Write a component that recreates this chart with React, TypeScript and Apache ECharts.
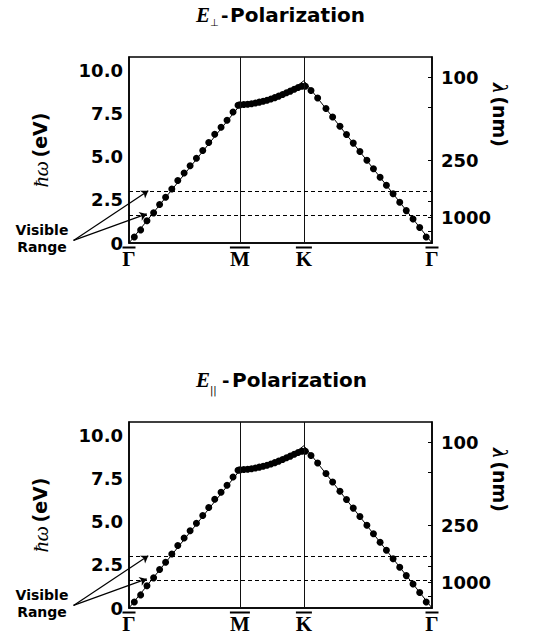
import React, { useEffect, useRef } from 'react';
import * as echarts from 'echarts';

// k-path positions of the high-symmetry points (Γ, M, K, Γ)
const kPoints = [0, 1, 1.577, 2.732];
const kLabels = ['Γ', 'M', 'K', 'Γ'];

// Γ -> M dots
const gmX = [0.048, 0.105, 0.162, 0.222, 0.276, 0.330, 0.386, 0.440, 0.497, 0.551, 0.608, 0.665, 0.719, 0.773, 0.830, 0.884, 0.938, 0.983];
const gmY = [0.35, 0.76, 1.29, 1.75, 2.24, 2.66, 3.14, 3.63, 4.06, 4.49, 4.92, 5.37, 5.84, 6.31, 6.72, 7.13, 7.61, 8.0];
// M -> K dots
const mkX = [1.00, 1.035, 1.07, 1.105, 1.14, 1.175, 1.21, 1.245, 1.28, 1.315, 1.35, 1.385, 1.42, 1.455, 1.49, 1.525, 1.56, 1.59];
const mkY = [8.02, 8.04, 8.06, 8.09, 8.13, 8.18, 8.23, 8.29, 8.36, 8.44, 8.53, 8.62, 8.72, 8.82, 8.93, 9.03, 9.10, 9.10];
// K -> Γ dots
const kgX = [1.641, 1.701, 1.776, 1.836, 1.902, 1.961, 2.022, 2.082, 2.145, 2.204, 2.264, 2.321, 2.381, 2.441, 2.500, 2.561, 2.621, 2.680];
const kgY = [8.85, 8.42, 7.81, 7.32, 6.78, 6.30, 5.80, 5.31, 4.80, 4.31, 3.82, 3.35, 2.86, 2.37, 1.88, 1.39, 0.90, 0.35];

// thin (light-line) curve
const thX = [0, 1.0, 1.1, 1.2, 1.3, 1.4, 1.5, 1.577, 2.732];
const thY = [0, 8.0, 8.07, 8.2, 8.4, 8.7, 9.05, 9.42, 0];

// visible range (eV)
const visLow = 1.62;
const visHigh = 3.02;

// left axis labels
const eVTicks = [0, 2.5, 5, 7.5, 10];
// right axis (wavelength) labels placed at energy positions
const lambdaLabels = ['100', '250', '1000'];
const lambdaPos = [9.6, 4.8, 1.5];
const lambdaTicks = [9.6, 7.9, 4.8, 2.4, 1.5, 0.7];

// arrow annotation (data coords)
const arrowTail = [-0.5, 0.15];
const arrowHeads = [[0.174, 3.04], [0.16, 1.69]];

const YMAX = 10.8;
const gridTops = [57, 422];
const titleSubs = ['⊥', '||'];

const sans = '"DejaVu Sans", "Liberation Sans", Arial, sans-serif';
const serif = '"Liberation Serif", "DejaVu Serif", "Times New Roman", serif';

const olWidths: Record<string, number> = { 'Γ': 13, 'M': 20, 'K': 16 };

function buildOption() {
  const grid: any[] = [];
  const xAxis: any[] = [];
  const yAxis: any[] = [];
  const series: any[] = [];
  const graphic: any[] = [];

  gridTops.forEach((top, g) => {
    grid.push({
      left: 129, top, width: 303, height: 186,
      show: true, borderColor: '#000', borderWidth: 1.5, backgroundColor: 'transparent',
    });
    xAxis.push({
      type: 'value', gridIndex: g, min: 0, max: kPoints[3],
      axisLine: { show: true, lineStyle: { color: '#000', width: 1.5 } },
      axisTick: { show: false },
      splitLine: { show: false },
      axisLabel: {
        customValues: kPoints,
        margin: 3,
        color: '#000',
        formatter: (v: number) => {
          const i = kPoints.findIndex((k) => Math.abs(k - v) < 1e-6);
          const lab = kLabels[i] || '';
          return `{ol${lab === 'Γ' ? 'G' : lab}| }\n{g|${lab}}`;
        },
        rich: {
          olG: { width: olWidths['Γ'], height: 2, backgroundColor: '#000', lineHeight: 3 },
          olM: { width: olWidths['M'], height: 2, backgroundColor: '#000', lineHeight: 3 },
          olK: { width: olWidths['K'], height: 2, backgroundColor: '#000', lineHeight: 3 },
          g: { fontFamily: serif, fontWeight: 'bold', fontSize: 21, color: '#000', lineHeight: 20 },
        },
      },
    });
    yAxis.push({
      type: 'value', gridIndex: g, min: 0, max: YMAX, position: 'left',
      axisLine: { show: true, lineStyle: { color: '#000', width: 1.5 } },
      axisTick: { show: false },
      splitLine: { show: false },
      axisLabel: {
        customValues: eVTicks,
        margin: 6,
        color: '#000',
        fontFamily: sans, fontWeight: 'bold', fontSize: 18,
        formatter: (v: number) => (v === 0 ? '0' : v.toFixed(1)),
      },
      name: '{i|ħω} {b|(eV)}',
      nameLocation: 'middle',
      nameRotate: 90,
      nameGap: 78,
      nameTextStyle: {
        rich: {
          i: { fontFamily: serif, fontStyle: 'italic', fontSize: 22, color: '#000' },
          b: { fontFamily: sans, fontWeight: 'bold', fontSize: 19, color: '#000' },
        },
      },
    });
    yAxis.push({
      type: 'value', gridIndex: g, min: 0, max: YMAX, position: 'right',
      axisLine: { show: true, lineStyle: { color: '#000', width: 1.5 } },
      axisTick: { show: true, inside: true, length: 4, customValues: lambdaTicks, lineStyle: { color: '#000', width: 1 } },
      splitLine: { show: false },
      axisLabel: {
        customValues: lambdaPos,
        margin: 9,
        color: '#000',
        fontFamily: sans, fontWeight: 'bold', fontSize: 18,
        formatter: (v: number) => {
          const i = lambdaPos.findIndex((p) => Math.abs(p - v) < 1e-6);
          return lambdaLabels[i] || '';
        },
      },
    });

    const yl = 2 * g;
    series.push({
      type: 'line', xAxisIndex: g, yAxisIndex: yl,
      data: thX.map((x, i) => [x, thY[i]]),
      symbol: 'none', lineStyle: { color: '#000', width: 1 }, z: 2, silent: true,
      markLine: {
        silent: true, symbol: ['none', 'none'], label: { show: false },
        data: [
          { xAxis: kPoints[1], lineStyle: { color: '#111', width: 1, type: 'solid' } },
          { xAxis: kPoints[2], lineStyle: { color: '#111', width: 1, type: 'solid' } },
          { yAxis: visHigh, lineStyle: { color: '#000', width: 1, type: [4, 3] } },
          { yAxis: visLow, lineStyle: { color: '#000', width: 1, type: [4, 3] } },
        ],
      },
    });
    series.push({
      type: 'scatter', xAxisIndex: g, yAxisIndex: yl,
      data: [
        ...gmX.map((x, i) => [x, gmY[i]]),
        ...mkX.map((x, i) => [x, mkY[i]]),
        ...kgX.map((x, i) => [x, kgY[i]]),
      ],
      symbol: 'circle', symbolSize: 7,
      itemStyle: { color: '#000', opacity: 1 }, z: 3, silent: true,
    });
    series.push({
      type: 'lines', coordinateSystem: 'cartesian2d', xAxisIndex: g, yAxisIndex: yl,
      clip: false, silent: true,
      symbol: ['none', 'arrow'], symbolSize: 7,
      lineStyle: { color: '#000', width: 1.2, opacity: 1, curveness: 0 },
      data: arrowHeads.map((h) => ({ coords: [arrowTail, h] })),
      z: 4,
    });

    // title
    const ty = g === 0 ? 15 : 380;
    graphic.push({ type: 'text', x: 196, y: ty, style: { text: 'E', font: `italic bold 21px ${serif}`, fill: '#000', verticalAlign: 'middle' } });
    graphic.push({ type: 'text', x: 210, y: ty + (g === 0 ? 7 : 10), style: { text: titleSubs[g], font: `${g === 0 ? 10 : 10}px ${sans}`, fill: '#000', verticalAlign: 'middle' } });
    graphic.push({ type: 'text', x: g === 0 ? 221 : 222, y: ty, style: { text: '-', font: `bold 18px ${sans}`, fill: '#000', verticalAlign: 'middle' } });
    graphic.push({ type: 'text', x: g === 0 ? 230 : 232, y: ty, style: { text: 'Polarization', font: `bold 20px ${sans}`, fill: '#000', verticalAlign: 'middle' } });

    // Visible Range label
    const off = g === 0 ? 0 : 365;
    graphic.push({ type: 'text', x: 42, y: 230 + off, style: { text: 'Visible', font: `bold 14px ${sans}`, fill: '#000', align: 'center', verticalAlign: 'middle' } });
    graphic.push({ type: 'text', x: 42, y: 247 + off, style: { text: 'Range', font: `bold 14px ${sans}`, fill: '#000', align: 'center', verticalAlign: 'middle' } });

    // right axis name
    graphic.push({
      type: 'text', x: 500, y: 115 + off, rotation: -Math.PI / 2,
      style: {
        text: '{i|λ} {b|(nm)}', align: 'center', verticalAlign: 'middle',
        rich: {
          i: { fontFamily: serif, fontStyle: 'italic', fontWeight: 'bold', fontSize: 22, fill: '#000' },
          b: { fontFamily: sans, fontWeight: 'bold', fontSize: 19, fill: '#000' },
        },
      },
    });
  });

  return {
    animation: false,
    backgroundColor: '#fff',
    grid, xAxis, yAxis, series, graphic,
  };
}

export default function App() {
  const ref = useRef<HTMLDivElement>(null);
  useEffect(() => {
    const chart = echarts.init(ref.current!, null, { renderer: 'svg' });
    chart.setOption(buildOption() as any);
    return () => chart.dispose();
  }, []);
  return <div ref={ref} style={{ position: 'absolute', left: 0, top: 0, width: 539, height: 640 }} />;
}
